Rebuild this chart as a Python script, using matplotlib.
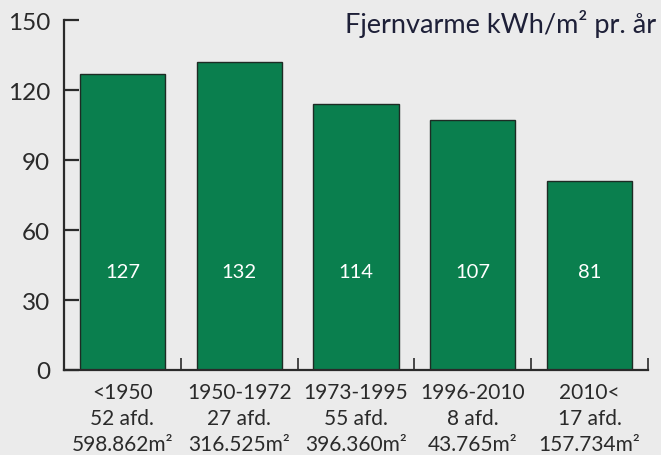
import numpy as np
import matplotlib.pyplot as plt

plt.rcParams['font.family'] = ['Lato', 'DejaVu Sans']

# data
periods = ['<1950', '1950-1972', '1973-1995', '1996-2010', '2010<']
afd = ['52 afd.', '27 afd.', '55 afd.', '8 afd.', '17 afd.']
areas = ['598.862m²', '316.525m²', '396.360m²', '43.765m²', '157.734m²']
values = [127, 132, 114, 107, 81]
yticks = [0, 30, 60, 90, 120, 150]

bg = '#ebebeb'
green = '#0a7f4e'
ink = '#2a2a2a'

fig = plt.figure(figsize=(6.61, 4.56), dpi=100, facecolor=bg)
ax = fig.add_axes([64/661, 85/456, 584/661, 350/456], facecolor=bg)

x = np.arange(len(values))
ax.bar(x, values, width=0.73, color=green, edgecolor='#1d2b24', linewidth=1.0, zorder=2)

for xi, v in zip(x, values):
    ax.text(xi, 42, str(v), ha='center', va='center', color='white', fontsize=14.5)

ax.set_xlim(-0.5, len(values) - 0.5)
ax.set_ylim(0, 150)
ax.set_yticks(yticks)
ax.set_yticklabels([str(t) for t in yticks], fontsize=17.5, color=ink)
ax.set_xticks(np.arange(len(values) + 1) - 0.5)
ax.set_xticklabels([])
ax.tick_params(axis='y', direction='in', length=11, width=1.6, color=ink, pad=10)
ax.tick_params(axis='x', direction='in', length=9, width=1.2, color=ink)

for s in ['top', 'right']:
    ax.spines[s].set_visible(False)
for s in ['left', 'bottom']:
    ax.spines[s].set_color(ink)
    ax.spines[s].set_linewidth(1.6)

for xi in x:
    lbl = periods[xi] + '\n' + afd[xi] + '\n' + areas[xi]
    ax.text(xi, -0.035, lbl, transform=ax.get_xaxis_transform(), ha='center', va='top',
            fontsize=15, color=ink, linespacing=1.38)

fig.text(656/661, 1 - 24/456, 'Fjernvarme kWh/m² pr. år', ha='right', va='center',
         fontsize=19.5, color='#1e2038')

fig.savefig('out.png', dpi=100, facecolor=bg)
